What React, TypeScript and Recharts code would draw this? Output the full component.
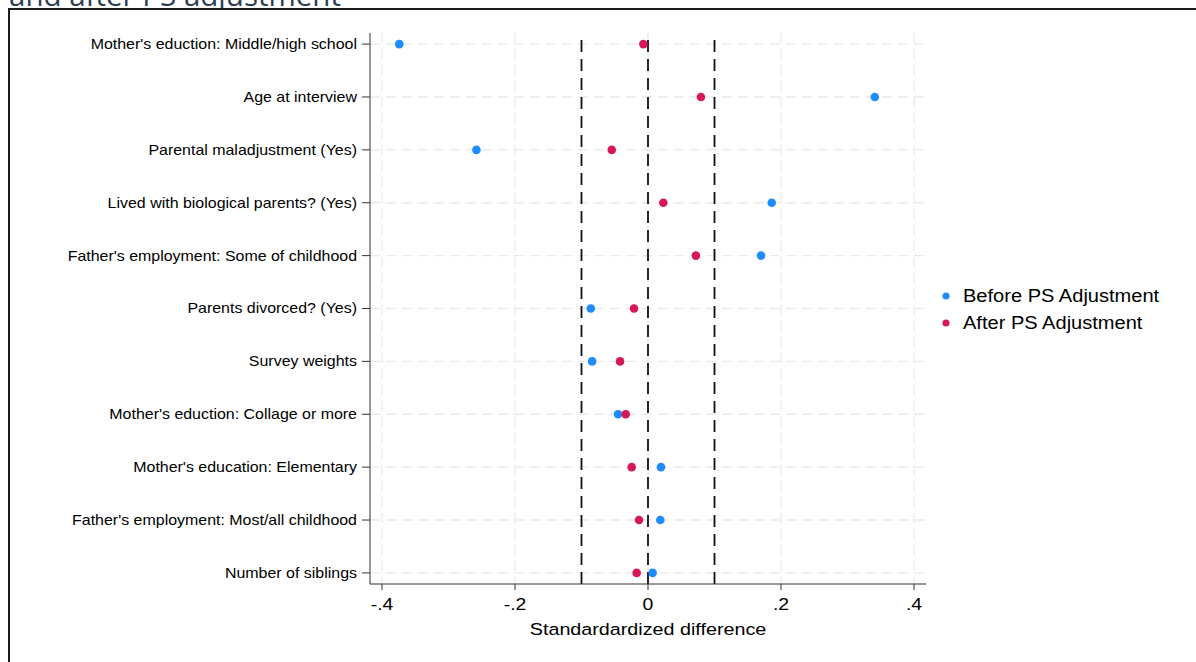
import React from 'react';
import { ScatterChart, Scatter, XAxis, YAxis, CartesianGrid, ReferenceLine, Legend, Label } from 'recharts';

const categories = [
  "Mother's eduction: Middle/high school",
  'Age at interview',
  'Parental maladjustment (Yes)',
  'Lived with biological parents? (Yes)',
  "Father's employment: Some of childhood",
  'Parents divorced? (Yes)',
  'Survey weights',
  "Mother's eduction: Collage or more",
  "Mother's education: Elementary",
  "Father's employment: Most/all childhood",
  'Number of siblings',
];
const seriesNames = ['Before PS Adjustment', 'After PS Adjustment'];
const beforeValues = [-0.374, 0.341, -0.258, 0.186, 0.17, -0.086, -0.084, -0.045, 0.0195, 0.0185, 0.007];
const afterValues = [-0.007, 0.0796, -0.0545, 0.023, 0.072, -0.021, -0.042, -0.0335, -0.0245, -0.0135, -0.017];
const xTicks = [-0.4, -0.2, 0, 0.2, 0.4];
const xTickLabels = ['-.4', '-.2', '0', '.2', '.4'];
const thresholds = [-0.1, 0, 0.1];
const yTicks = categories.map((_, i) => i);
const xDomain: [number, number] = [-0.418, 0.418];
const yDomain: [number, number] = [-0.21, 10.21];

const BLUE = '#1e8bff';
const RED = '#d6175c';
const FONT = '"Liberation Sans", Arial, sans-serif';
const SX = 1.14;

const beforeData = categories.map((c, i) => ({ idx: i, value: beforeValues[i], name: c }));
const afterData = categories.map((c, i) => ({ idx: i, value: afterValues[i], name: c }));

const useScale = (axis: any, t: number, fallback: number) => {
  const s = axis && axis.scale;
  if (typeof s === 'function') return s(t);
  if (s && typeof s.map === 'function') return s.map(t);
  return fallback;
};

const hGen = (p: any) => {
  const o = p.offset || {};
  return yTicks.map((t) =>
    useScale(p.yAxis, t, o.top + ((t - yDomain[0]) / (yDomain[1] - yDomain[0])) * o.height)
  );
};
const vGen = (p: any) => {
  const o = p.offset || {};
  return xTicks.map((t) =>
    useScale(p.xAxis, t, o.left + ((t - xDomain[0]) / (xDomain[1] - xDomain[0])) * o.width)
  );
};

const YTick = (props: any) => {
  const { x, y, payload } = props;
  return (
    <g transform={`translate(${x},${y}) scale(${SX},1)`}>
      <text x={0} y={0} dy="0.35em" textAnchor="end" fontSize={14} fill="#000" fontFamily={FONT}>
        {categories[payload.value]}
      </text>
    </g>
  );
};

const XTick = (props: any) => {
  const { x, y, payload } = props;
  const i = xTicks.indexOf(payload.value);
  return (
    <g transform={`translate(${x},${y}) scale(${SX},1)`}>
      <text x={0} y={0} dy="0.71em" textAnchor="middle" fontSize={17} fill="#000" fontFamily={FONT}>
        {i >= 0 ? xTickLabels[i] : String(payload.value)}
      </text>
    </g>
  );
};

const XLabel = (props: any) => {
  const vb = props.viewBox || { x: 0, y: 0, width: 0, height: 0 };
  const cx = vb.x + vb.width / 2;
  const by = vb.y + vb.height - 27;
  return (
    <g transform={`translate(${cx},${by}) scale(${SX},1)`}>
      <text x={0} y={0} textAnchor="middle" fontSize={17.3} fill="#000" fontFamily={FONT}>
        Standardardized difference
      </text>
    </g>
  );
};

const renderLegend = (props: any) => {
  const payload = [...(props.payload || [])].sort(
    (a: any, b: any) => seriesNames.indexOf(a.value) - seriesNames.indexOf(b.value)
  );
  return (
    <svg width={260} height={60} style={{ overflow: 'visible', display: 'block' }}>
      {payload.map((p: any, i: number) => (
        <g key={i}>
          <circle cx={6} cy={13 + i * 27} r={3.6} fill={p.color} />
          <g transform={`translate(23,${13 + i * 27}) scale(${SX},1)`}>
            <text x={0} y={0} dy="0.35em" fontSize={17.6} fill="#000" fontFamily={FONT}>
              {p.value}
            </text>
          </g>
        </g>
      ))}
    </svg>
  );
};

const dot = (color: string) => (p: any) => <circle cx={p.cx} cy={p.cy} r={4.3} fill={color} />;

export default function App() {
  return (
    <div style={{ position: 'absolute', left: 0, top: 0, width: 1196, height: 662, overflow: 'hidden', background: '#fff' }}>
      <svg width={1196} height={20} style={{ position: 'absolute', left: 0, top: 0 }}>
        <text x={9} y={5.5} fontSize={29.5} fill="#2e3e55" fontFamily='"Open Sans", sans-serif'>
          and after PS adjustment
        </text>
      </svg>
      <div
        style={{
          position: 'absolute',
          left: 8,
          top: 8,
          width: 1250,
          height: 720,
          border: '2px solid #1c1c1c',
          background: '#fff',
        }}
      />
      <div style={{ position: 'absolute', left: 0, top: 0 }}>
        <ScatterChart width={1196} height={662} margin={{ top: 33, right: 270, bottom: 0, left: 0 }}>
          <CartesianGrid
            strokeDasharray="10 6"
            stroke="#e9e9e9"
            strokeWidth={1.3}
            horizontalCoordinatesGenerator={hGen}
            verticalCoordinatesGenerator={vGen}
          />
          <XAxis
            type="number"
            dataKey="value"
            domain={xDomain}
            ticks={xTicks}
            allowDataOverflow
            height={78}
            tickSize={6}
            tickMargin={8}
            tick={<XTick />}
            axisLine={{ stroke: '#333' }}
            tickLine={{ stroke: '#333' }}
          >
            <Label content={<XLabel />} position="insideBottom" />
          </XAxis>
          <YAxis
            type="number"
            dataKey="idx"
            domain={yDomain}
            reversed
            ticks={yTicks}
            interval={0}
            allowDataOverflow
            width={370}
            tickSize={8}
            tickMargin={5}
            tick={<YTick />}
            axisLine={{ stroke: '#333' }}
            tickLine={{ stroke: '#333' }}
          />
          {thresholds.map((t) => (
            <ReferenceLine key={t} x={t} stroke="#111" strokeWidth={1.8} strokeDasharray="12 7" />
          ))}
          <Scatter name={seriesNames[0]} data={beforeData} fill={BLUE} isAnimationActive={false} shape={dot(BLUE)} />
          <Scatter name={seriesNames[1]} data={afterData} fill={RED} isAnimationActive={false} shape={dot(RED)} />
          <Legend
            layout="vertical"
            align="right"
            verticalAlign="top"
            content={renderLegend}
            wrapperStyle={{ position: 'absolute', left: 940, top: 283, width: 0, height: 0, overflow: 'visible' }}
          />
        </ScatterChart>
      </div>
    </div>
  );
}
